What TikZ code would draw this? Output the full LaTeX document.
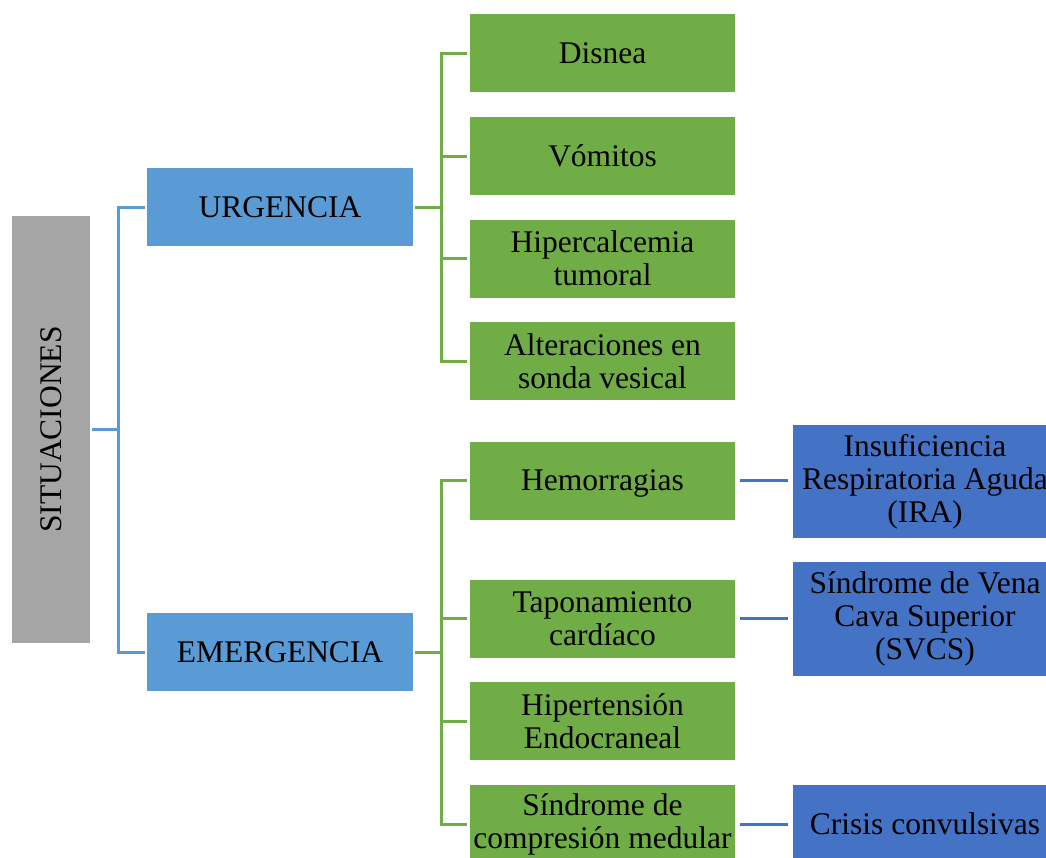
\documentclass[tikz,border=0pt]{standalone}
\usepackage{fontspec}
\setmainfont{Liberation Serif}
\definecolor{greyfill}{HTML}{A5A5A5}
\definecolor{lightblue}{HTML}{5B9BD5}
\definecolor{leafgreen}{HTML}{70AD47}
\definecolor{darkblue}{HTML}{4472C4}
\begin{document}
\begin{tikzpicture}[x=1pt,y=-1pt,
  box/.style={inner sep=0pt, align=center, text=black,
    font=\fontsize{31.5}{33}\selectfont},
  rootbox/.style={box, fill=greyfill, minimum width=78pt, minimum height=427pt},
  catbox/.style={box, fill=lightblue, minimum width=266pt, minimum height=78pt},
  itembox/.style={box, fill=leafgreen, minimum width=265pt, minimum height=78pt},
  notebox/.style={box, fill=darkblue, minimum width=264pt},
  bconn/.style={draw=lightblue, line width=3pt},
  gconn/.style={draw=leafgreen, line width=3pt},
  dconn/.style={draw=darkblue, line width=3pt, shorten <=5pt, shorten >=5pt}]
\useasboundingbox (0,0) rectangle (1046,857);

% root
\node[rootbox] (sit) at (51,429.5) {};
\node[box, rotate=90] (sitlabel) at (sit.center) {SITUACIONES};

% categories
\node[catbox] (urg) at (280,207) {URGENCIA};
\node[catbox] (emg) at (280,652) {EMERGENCIA};

% urgent situations
\node[itembox] (dis) at (602.5,53) {Disnea};
\node[itembox] (vom) at (602.5,156) {Vómitos};
\node[itembox] (hca) at (602.5,258.5) {Hipercalcemia\\tumoral};
\node[itembox] (alt) at (602.5,361) {Alteraciones en\\sonda vesical};

% emergency situations
\node[itembox, text depth=0pt] (hem) at (602.5,480.5) {Hemorragias};
\node[itembox] (tap) at (602.5,618.5) {Taponamiento\\cardíaco};
\node[itembox] (hte) at (602.5,721) {Hipertensión\\Endocraneal};
\node[itembox] (scm) at (602.5,824) {Síndrome de\\compresión medular};

% further emergencies
\node[notebox, minimum height=113pt] (ira) at (925,481.5) {Insuficiencia\\Respiratoria Aguda\\(IRA)};
\node[notebox, minimum height=114pt] (svc) at (925,619) {Síndrome de Vena\\Cava Superior\\(SVCS)};
\node[notebox, minimum height=78pt] (cri) at (925,824) {Crisis convulsivas};

% root to categories
\draw[bconn] ([xshift=2pt]sit.east) -- (118,429.5) coordinate (jr);
\draw[bconn] (jr) |- ([xshift=-2pt]urg.west);
\draw[bconn] (jr) |- ([xshift=-2pt]emg.west);

% URGENCIA branch
\draw[gconn] ([xshift=2pt]urg.east) -- (441,207) coordinate (ju);
\foreach \n in {dis,vom,hca,alt}
  \draw[gconn] (ju) |- ([xshift=-3pt]\n.west);

% EMERGENCIA branch
\draw[gconn] ([xshift=2pt]emg.east) -- (441,652) coordinate (je);
\foreach \n in {hem,tap,hte,scm}
  \draw[gconn] (je) |- ([xshift=-3pt]\n.west);

% links to related emergencies
\draw[dconn] (hem.east) -- (hem.east -| ira.west);
\draw[dconn] (tap.east) -- (tap.east -| svc.west);
\draw[dconn] (scm.east) -- (scm.east -| cri.west);
\end{tikzpicture}
\end{document}
